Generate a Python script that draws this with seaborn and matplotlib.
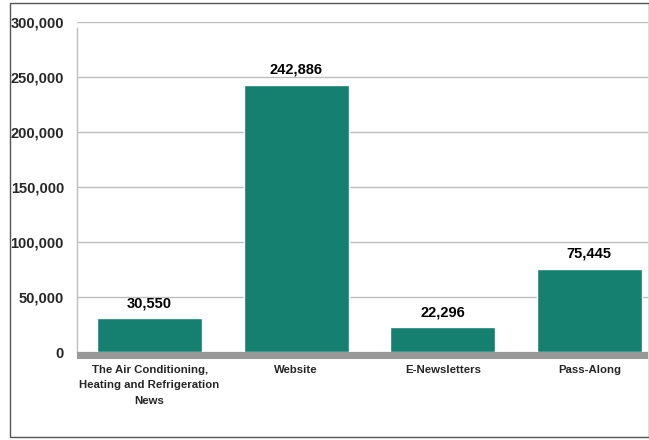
import matplotlib
matplotlib.use("Agg")
import matplotlib.pyplot as plt
import seaborn as sns
import pandas as pd
from matplotlib.patches import Rectangle
from matplotlib.ticker import FuncFormatter
from matplotlib import font_manager

categories = ["The Air Conditioning,\nHeating and Refrigeration\nNews", "Website", "E-Newsletters", "Pass-Along"]
values = [30550, 242886, 22296, 75445]
yticks = [0, 50000, 100000, 150000, 200000, 250000, 300000]

sns.set_theme(style="white")
plt.rcParams['font.family'] = ['Liberation Sans', 'DejaVu Sans']

names = {f.name for f in font_manager.fontManager.ttflist}
if "Liberation Sans Narrow" in names:
    xfam, xsize, xls = ["Liberation Sans Narrow", "Liberation Sans"], 10, 1.15
else:
    xfam, xsize, xls = ["Liberation Sans", "DejaVu Sans"], 8.2, 1.7

df = pd.DataFrame({"cat": categories, "val": values})

W, H = 649, 440
fig = plt.figure(figsize=(W/100, H/100), dpi=100)
ax = fig.add_axes([77/W, (H-358.6)/H, (648-77)/W, 336.6/H])

sns.barplot(data=df, x="cat", y="val", color="#168070", saturation=1, width=0.715, ax=ax, zorder=3)

ax.set_ylim(-6000, 300000)
ax.set_xlim(-0.495, 3.40)
ax.set_yticks(yticks)
ax.yaxis.set_major_formatter(FuncFormatter(lambda v, p: f"{int(v):,}"))
ax.grid(axis="y", color="#BEBEBE", linewidth=1, zorder=0)
ax.axhspan(-6000, 0, color="#999999", zorder=4, lw=0)

for s in ["top", "right", "bottom"]:
    ax.spines[s].set_visible(False)
ax.spines["left"].set_color("#BEBEBE")
ax.spines["left"].set_linewidth(1)
ax.spines["left"].set_bounds(0, 294500)

ax.tick_params(axis="y", length=0, pad=9.4, labelsize=10.5)
ax.tick_params(axis="x", length=0, pad=4.5)
for lab in ax.get_yticklabels():
    lab.set_fontweight("bold")
for lab in ax.get_xticklabels():
    lab.set_fontweight("bold")
    lab.set_fontsize(xsize)
    lab.set_family(xfam)
    lab.set_linespacing(xls)

ax.set_xlabel("")
ax.set_ylabel("")

for i, v in enumerate(values):
    ax.annotate(f"{v:,}", (i, v), xytext=(0, 6), textcoords="offset points",
                ha="center", va="bottom", fontsize=10.5, fontweight="bold", color="black")

fig.patches.append(Rectangle((10/W, 3/H), (649-10.5)/W, (437-3)/H, transform=fig.transFigure,
                             fill=False, edgecolor="#555555", linewidth=1))

fig.savefig("out.png", dpi=100)
